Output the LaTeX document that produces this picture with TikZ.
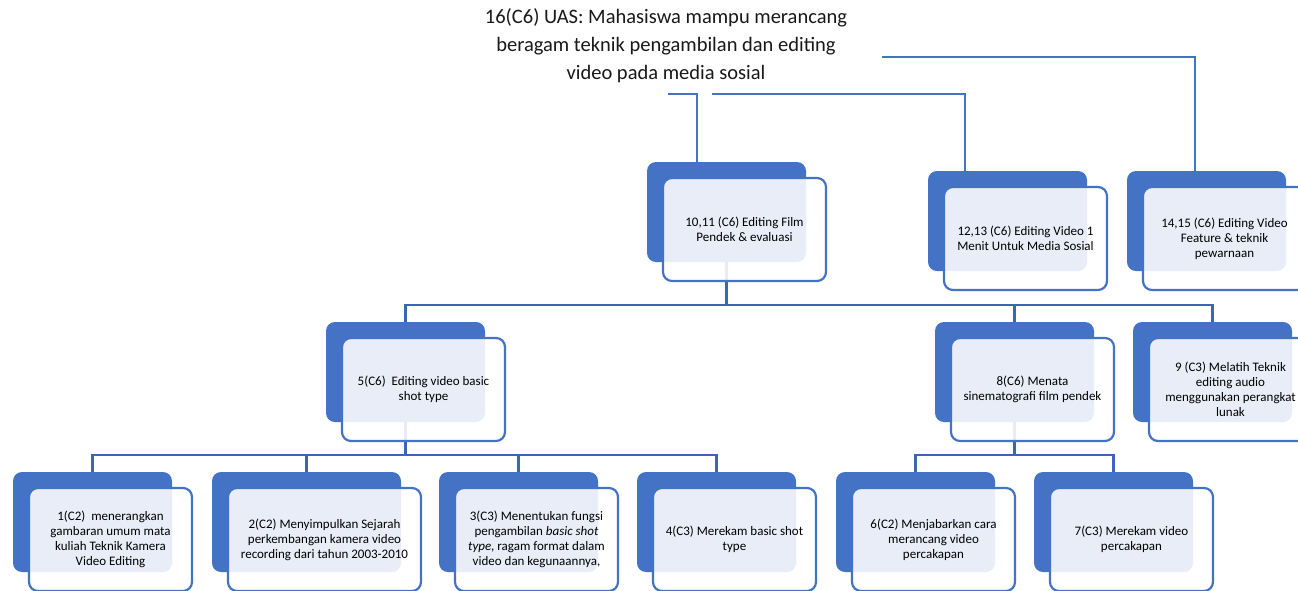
\documentclass[tikz,border=0pt]{standalone}
\usepackage{fontspec}
\setmainfont{Carlito}
\usetikzlibrary{backgrounds}
\definecolor{accent}{HTML}{4472C4}
\definecolor{treeblue}{HTML}{3A66B5}
\tikzset{
  backbox/.style={fill=accent, draw=none, rounded corners=9pt, minimum width=159pt,
    minimum height=100pt, anchor=north west, inner sep=0pt, outer sep=0pt},
  frontbox/.style={draw=accent, line width=2.2pt, fill=white, fill opacity=0.88,
    text opacity=1, rounded corners=9pt, minimum width=163pt, minimum height=103pt,
    anchor=north west, inner sep=0pt, outer sep=0pt, align=center,
    font=\fontsize{13}{15}\selectfont, text=black},
  tree/.style={draw=treeblue, line width=2.8pt},
  thinline/.style={draw=accent, line width=1.4pt},
}
\begin{document}
\begin{tikzpicture}[x=1pt,y=-1pt]
\useasboundingbox (0,0) rectangle (1298,590);
\begin{pgfonlayer}{background}
  \fill[white] (0,0) rectangle (1298,590);
\end{pgfonlayer}

% title
\node[font=\fontsize{20.5}{28}\selectfont, align=center, text=black!90] (title) at (666,46)
  {16(C6) UAS: Mahasiswa mampu merancang\\beragam teknik pengambilan dan editing\\video pada media sosial};

% back boxes
\node[backbox] (b10) at (647,162) {};
\node[backbox] (b12) at (928,171) {};
\node[backbox] (b14) at (1127,171) {};
\node[backbox] (b5) at (326,322) {};
\node[backbox] (b8) at (935,322) {};
\node[backbox] (b9) at (1133,322) {};
\node[backbox] (b1) at (13,472) {};
\node[backbox, minimum width=189pt] (b2) at (212,472) {};
\node[backbox] (b3) at (439,472) {};
\node[backbox] (b4) at (637,472) {};
\node[backbox] (b6) at (836,472) {};
\node[backbox] (b7) at (1034,472) {};

% front boxes
\node[frontbox] (f10) at (663,178) {10,11 (C6) Editing Film\\Pendek \& evaluasi};
\node[frontbox] (f12) at (944,187) {12,13 (C6) Editing Video 1\\Menit Untuk Media Sosial};
\node[frontbox] (f14) at (1143,187) {14,15 (C6) Editing Video\\Feature \& teknik\\pewarnaan};
\node[frontbox] (f5) at (342,338) {5(C6)\ \ Editing video basic\\shot type};
\node[frontbox] (f8) at (951,338) {8(C6) Menata\\sinematografi film pendek};
\node[frontbox] (f9) at (1149,338) {9 (C3) Melatih Teknik\\editing audio\\menggunakan perangkat\\lunak};
\node[frontbox] (f1) at (29,488) {1(C2)\ \ menerangkan\\gambaran umum mata\\kuliah Teknik Kamera\\Video Editing};
\node[frontbox, minimum width=193pt] (f2) at (228,488) {2(C2) Menyimpulkan Sejarah\\perkembangan kamera video\\recording dari tahun 2003-2010};
\node[frontbox] (f3) at (455,488) {3(C3) Menentukan fungsi\\pengambilan \textit{basic shot}\\\textit{type}, ragam format dalam\\video dan kegunaannya,};
\node[frontbox] (f4) at (653,488) {4(C3) Merekam basic shot\\type};
\node[frontbox] (f6) at (852,488) {6(C2) Menjabarkan cara\\merancang video\\percakapan};
\node[frontbox] (f7) at (1050,488) {7(C3) Merekam video\\percakapan};

% connectors
\coordinate (busA) at (0,305);
\coordinate (busB) at (0,455);
\coordinate (p1) at (668,94);
\coordinate (p2) at (712,94);
\coordinate (p3) at (882,57);
\begin{pgfonlayer}{background}
  \draw[thinline] (p1) -| ([xshift=50pt]b10.north west);
  \draw[thinline] (p2) -| ([xshift=37pt]b12.north west);
  \draw[thinline] (p3) -| ([xshift=68pt]b14.north west);
  \foreach \c in {b5,b8,b9}
    \draw[tree] (b10.south) -- (b10.south |- busA) -| (\c.north);
  \foreach \c in {b1,b2,b3,b4}
    \draw[tree] (b5.south) -- (b5.south |- busB) -| (\c.north);
  \foreach \c in {b6,b7}
    \draw[tree] (b8.south) -- (b8.south |- busB) -| (\c.north);
\end{pgfonlayer}
\end{tikzpicture}
\end{document}
